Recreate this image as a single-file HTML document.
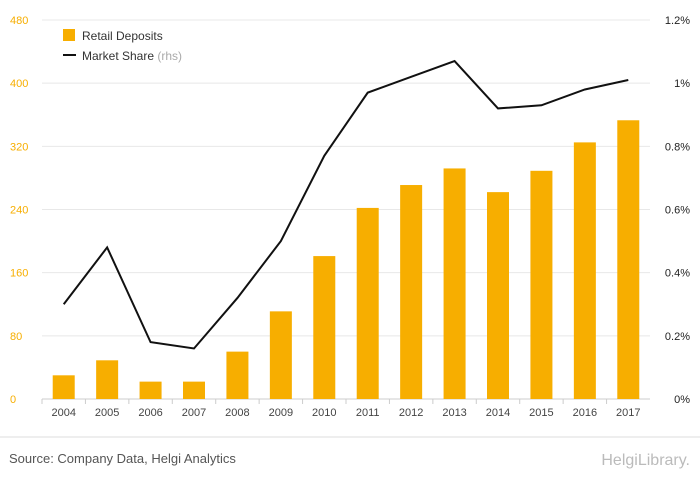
<!DOCTYPE html>
<html><head><meta charset="utf-8"><style>
body{margin:0;background:#fff;font-family:"Liberation Sans",sans-serif}
svg text{font-family:"Liberation Sans",sans-serif}
</style></head><body>
<svg width="700" height="483" id="c">
<rect width="700" height="483" fill="#fff"/>
<g id="grid"></g>
<g id="bars"></g>
<path id="line" fill="none" stroke="#111" stroke-width="2"/>
<g id="axes"></g>
<g>
<rect x="63" y="29" width="12" height="12" fill="#f7ae00"/>
<text x="82" y="40" font-size="12" fill="#333">Retail Deposits</text>
<line x1="63" y1="55" x2="76" y2="55" stroke="#111" stroke-width="2"/>
<text x="82" y="60" font-size="12" fill="#333">Market Share <tspan fill="#aaa">(rhs)</tspan></text>
</g>
<line x1="0" y1="437" x2="700" y2="437" stroke="#ddd"/>
<text x="9" y="463" font-size="13" fill="#555">Source: Company Data, Helgi Analytics</text>
<text x="690" y="465" font-size="16" fill="#bbb" text-anchor="end">HelgiLibrary.</text>
</svg>
<script>
const categories=["2004","2005","2006","2007","2008","2009","2010","2011","2012","2013","2014","2015","2016","2017"];
const deposits=[30,49,22,22,60,111,181,242,271,292,262,289,325,353];
const share=[0.30,0.48,0.18,0.16,0.32,0.50,0.77,0.97,1.02,1.07,0.92,0.93,0.98,1.01];
const leftTicks=[0,80,160,240,320,400,480];
const rightTicks=[0,0.2,0.4,0.6,0.8,1.0,1.2];
const rightLabels=["0%","0.2%","0.4%","0.6%","0.8%","1%","1.2%"];
const ns="http://www.w3.org/2000/svg";
const X0=42,X1=650,Y0=399,Y1=20;
const step=(X1-X0)/categories.length;
const xs=i=>X0+step*(i+0.5);
const yl=v=>Y0-(v/480)*(Y0-Y1);
const yr=v=>Y0-(v/1.2)*(Y0-Y1);
function mk(t,a,p){const e=document.createElementNS(ns,t);for(const k in a)e.setAttribute(k,a[k]);p.appendChild(e);return e;}
const grid=document.getElementById('grid'),axes=document.getElementById('axes'),bars=document.getElementById('bars');
leftTicks.forEach((v,i)=>{
 const g=mk('line',{x1:X0,x2:X1,y1:yl(v),y2:yl(v),stroke:v===0?'#ccc':'#e8e8e8'},grid);
 
 
 const t=mk('text',{x:10,y:yl(v)+4,'font-size':11,fill:'#f7ae00'},axes);t.textContent=v;
 
 
});
rightTicks.forEach((v,i)=>{
 const t=mk('text',{x:690,y:yr(v)+4,'font-size':11,fill:'#222','text-anchor':'end'},axes);t.textContent=rightLabels[i];
 
 
});
categories.forEach((c,i)=>{
 const b=mk('rect',{x:xs(i)-11,y:yl(deposits[i]),width:22,height:Y0-yl(deposits[i]),fill:'#f7ae00'},bars);
 
 
 const t=mk('text',{x:xs(i),y:416,'font-size':11,fill:'#444','text-anchor':'middle'},axes);t.textContent=c;
 
 
 const tk=mk('line',{x1:X0+step*i,x2:X0+step*i,y1:Y0,y2:Y0+5,stroke:'#ccc'},axes);
 
 
});
document.getElementById('line').setAttribute('d',share.map((v,i)=>(i?'L':'M')+xs(i)+','+yr(v)).join(''));
</script>
</body></html>
